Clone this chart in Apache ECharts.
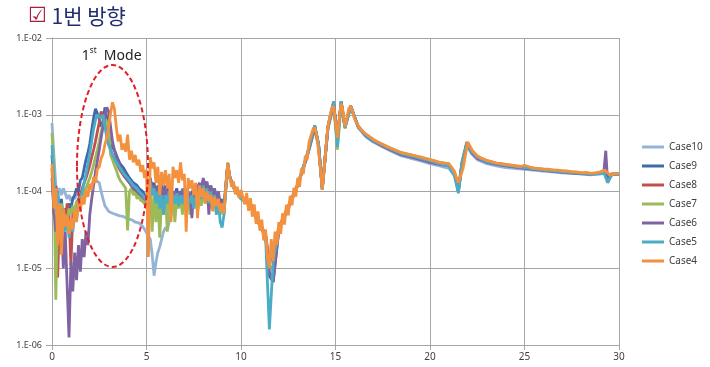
<!DOCTYPE html>
<html><head><meta charset="utf-8">
<script src="https://cdn.jsdelivr.net/npm/echarts@6/dist/echarts.min.js"></script>
<style>html,body{margin:0;padding:0;background:#fff}#c{width:710px;height:367px}</style>
</head><body><div id="c"></div>
<script>
const seriesNames = ['Case10','Case9','Case8','Case7','Case6','Case5','Case4'];
const seriesColors = ['#95b3d7','#3f68ad','#c0504d','#9bbb59','#7f63a2','#4bacc6','#f4913f'];
const xTicks = [0,5,10,15,20,25,30];

const freqLow = [0,0.1,0.2,0.3,0.4,0.5,0.6,0.7,0.8,0.9,
1,1.1,1.2,1.3,1.4,1.5,1.6,1.7,1.8,1.9,
2,2.1,2.2,2.3,2.4,2.5,2.6,2.7,2.8,2.9,
3,3.1,3.2,3.3,3.4,3.5,3.6,3.7,3.8,3.9,
4,4.1,4.2,4.3,4.4,4.5,4.6,4.7,4.8,4.9,
5,5.1,5.2,5.3,5.4,5.5,5.6,5.7,5.8,5.9,
6,6.1,6.2,6.3,6.4,6.5,6.6,6.7,6.8,6.9,
7,7.1,7.2,7.3,7.4,7.5,7.6,7.7,7.8,7.9,
8,8.1,8.2,8.3,8.4,8.5,8.6,8.7,8.8,8.9,
9,9.1,9.2,9.3,9.4,9.5,9.6,9.7,9.8,9.9,
10];

const freqFine = [10.1,10.2,10.3,10.4,10.5,10.6,10.7,10.8,10.9,
11,11.1,11.2,11.3,11.4,11.5,11.6,11.7,11.8,11.9,
12,12.1,12.2,12.3,12.4,12.5,12.6,12.7,12.8,12.9,
13,13.1,13.2,13.3,13.4,13.5,13.6,13.7,13.8,13.9,
14,14.1,14.2,14.3,14.4,14.5,14.6,14.7,14.8,14.9,
15,15.1,15.2,15.3,15.4,15.5,15.6,15.7,15.8,15.9,
16,16.1,16.2,16.3,16.4,16.5,
16.75,17,17.25,17.5,17.75,
18,18.25,18.5,18.75,19,19.25,19.5,19.75,
20,20.25,20.5,20.75,21,21.25,21.5,21.75,
22,22.25,22.5,22.75,23,23.25,23.5,23.75,
24,24.25,24.5,24.75,25,25.25,25.5,25.75,
26,26.25,26.5,26.75,27,27.25,27.5,27.75,
28,28.25,28.5,28.75,29,29.25,29.5,29.75,
30];

const freqCoarse = [10.5,11,11.3,11.5,11.7,12,12.5,13,13.5,13.9,
14.1,14.3,14.6,14.9,15.1,15.3,15.5,15.8,16.2,16.6,
17,17.5,18,18.5,19,19.5,20,20.5,21,21.3,
21.5,21.7,21.95,22.2,22.5,23,23.5,24,25,26,
27,28,28.5,29,29.2,29.3,29.4,29.6,30];

const case10Low = [7.8e-4,3e-4,1.2e-4,1.0e-4,1.1e-4,9e-5,1.1e-4,9.5e-5,8e-5,9e-5,
7.5e-5,8.5e-5,8e-5,9e-5,8.5e-5,9.5e-5,1.0e-4,1.05e-4,1.1e-4,1.15e-4,
1.2e-4,1.25e-4,1.3e-4,1.4e-4,1.45e-4,1.3e-4,1.0e-4,8e-5,6.5e-5,6e-5,
5.5e-5,5.6e-5,5.2e-5,5.4e-5,5e-5,5.2e-5,4.8e-5,5.0e-5,4.7e-5,4.5e-5,
4.4e-5,4.2e-5,4.3e-5,4.2e-5,4.0e-5,4.1e-5,3.9e-5,3.9e-5,3.5e-5,3.2e-5,
2.9e-5,2.6e-5,2.4e-5,1.5e-5,8e-6,1.2e-5,1.6e-5,1.9e-5,2.4e-5,3e-5,
3.4e-5,3.1e-5,4e-5,5e-5,6e-5,7e-5,8e-5,1.0e-4,8.5e-5,1.1e-4,
9e-5,1.1e-4,8e-5,1.0e-4,9e-5,1.05e-4,8e-5,9.5e-5,8.5e-5,1.0e-4,
9e-5,1.0e-4,8e-5,9e-5,8.5e-5,9e-5,7.5e-5,8.5e-5,7e-5,8e-5,
7e-5,6.5e-5,1.3e-4,2.2e-4,1.5e-4,1.3e-4,1.15e-4,1.1e-4,1.0e-4,9.5e-5,
8.5e-5];
const case10High = [6.5e-5,3.5e-5,2.5e-5,1.1e-5,1.6e-5,3.2e-5,6e-5,1.2e-4,2.8e-4,6.5e-4,
3.8e-4,1.05e-4,6.5e-4,1.3e-3,4.8e-4,1.4e-3,6.8e-4,1.25e-3,6.8e-4,5.2e-4,
4.4e-4,3.8e-4,3.3e-4,2.9e-4,2.7e-4,2.5e-4,2.3e-4,2.15e-4,2.0e-4,1.6e-4,
1.0e-4,2.2e-4,4.0e-4,3.1e-4,2.6e-4,2.3e-4,2.15e-4,2.05e-4,1.95e-4,1.85e-4,
1.75e-4,1.7e-4,1.65e-4,1.7e-4,1.72e-4,1.75e-4,1.65e-4,1.65e-4,1.68e-4];

const case9Low = [3e-4,1.0e-4,6e-5,1.0e-4,5e-5,8e-5,4e-5,6e-5,5e-5,7e-5,
6e-5,8e-5,9e-5,1.1e-4,1.0e-4,1.4e-4,1.5e-4,2.0e-4,2.6e-4,3.2e-4,
4.2e-4,6.3e-4,9e-4,1.2e-3,1.15e-3,9e-4,7e-4,8e-4,1.25e-3,9e-4,
5.5e-4,4e-4,3.8e-4,3.5e-4,3e-4,2.6e-4,2.3e-4,2.2e-4,2.0e-4,1.8e-4,
1.7e-4,1.5e-4,1.45e-4,1.3e-4,1.25e-4,1.2e-4,1.1e-4,1.1e-4,1.0e-4,9e-5,
8e-5,1.2e-4,1.5e-4,1.1e-4,1.3e-4,9e-5,1.2e-4,1.0e-4,1.3e-4,8e-5,
1.2e-4,1.0e-4,1.1e-4,7e-5,1.0e-4,9e-5,1.1e-4,8e-5,1.0e-4,9e-5,
1.1e-4,7.5e-5,1.0e-4,8e-5,9.5e-5,1.1e-4,8e-5,1.0e-4,1.2e-4,1.0e-4,
1.4e-4,1.1e-4,1.3e-4,9e-5,1.2e-4,8e-5,1.1e-4,7e-5,1.0e-4,6e-5,
8e-5,6e-5,1.1e-4,2.2e-4,1.6e-4,1.35e-4,1.2e-4,1.1e-4,1.0e-4,9e-5,
8.5e-5];
const case9High = [7e-5,3.9e-5,2.7e-5,8e-6,6.6e-6,3.2e-5,6.3e-5,1.2e-4,3e-4,7.2e-4,
4.2e-4,1.1e-4,7e-4,1.45e-3,5e-4,1.5e-3,7e-4,1.3e-3,7e-4,5.4e-4,
4.6e-4,4e-4,3.5e-4,3.1e-4,2.9e-4,2.7e-4,2.5e-4,2.3e-4,2.2e-4,1.7e-4,
1.0e-4,2.4e-4,4.3e-4,3.3e-4,2.8e-4,2.45e-4,2.3e-4,2.2e-4,2.05e-4,1.9e-4,
1.8e-4,1.72e-4,1.7e-4,1.72e-4,1.8e-4,1.9e-4,1.6e-4,1.68e-4,1.7e-4];

const case8Low = [2e-4,5e-5,1.2e-4,7.6e-6,5e-5,3e-5,6e-5,4e-5,7e-5,5e-5,
1.1e-5,5e-5,6e-5,7e-5,8e-5,9e-5,1.1e-4,1.3e-4,1.5e-4,1.8e-4,
2.2e-4,2.8e-4,3.5e-4,4.5e-4,6e-4,8e-4,1.1e-3,1.15e-3,9e-4,6e-4,
4.5e-4,3.5e-4,3e-4,2.6e-4,2.4e-4,2.1e-4,1.9e-4,1.8e-4,1.6e-4,1.5e-4,
1.4e-4,1.3e-4,1.2e-4,1.1e-4,1.0e-4,9.5e-5,8.5e-5,8e-5,7.5e-5,7e-5,
6.5e-5,1.0e-4,1.3e-4,9e-5,1.1e-4,7e-5,1.0e-4,8e-5,1.1e-4,7e-5,
9e-5,1.0e-4,8e-5,1.0e-4,7e-5,9e-5,8e-5,1.0e-4,7.5e-5,9e-5,
8e-5,1.0e-4,7e-5,9e-5,8e-5,1.0e-4,7.5e-5,9e-5,1.1e-4,8e-5,
1.2e-4,1.0e-4,1.2e-4,8e-5,1.1e-4,7e-5,1.0e-4,6.5e-5,9e-5,6e-5,
7.5e-5,6e-5,1.2e-4,2.3e-4,1.55e-4,1.3e-4,1.15e-4,1.1e-4,1.0e-4,9e-5,
8.5e-5];
const case8High = [6.8e-5,3.7e-5,2.8e-5,1.2e-5,1.5e-5,3.4e-5,6.4e-5,1.25e-4,2.9e-4,7e-4,
4.1e-4,1.1e-4,6.8e-4,1.4e-3,4.8e-4,1.45e-3,7e-4,1.3e-3,7.1e-4,5.5e-4,
4.7e-4,4.05e-4,3.55e-4,3.15e-4,2.95e-4,2.75e-4,2.55e-4,2.35e-4,2.25e-4,1.75e-4,
1.05e-4,2.4e-4,4.4e-4,3.35e-4,2.85e-4,2.5e-4,2.35e-4,2.2e-4,2.05e-4,1.9e-4,
1.82e-4,1.73e-4,1.7e-4,1.73e-4,1.8e-4,1.85e-4,1.62e-4,1.68e-4,1.7e-4];

const case7Low = [5.8e-4,2e-4,3.9e-6,6e-5,4e-5,7e-5,3e-5,5e-5,4e-5,6e-5,
5e-5,6.5e-5,5.5e-5,7.5e-5,6.5e-5,8.5e-5,8e-5,1.0e-4,1.1e-4,1.3e-4,
1.5e-4,1.8e-4,2.2e-4,2.8e-4,3.5e-4,4.5e-4,6e-4,7.5e-4,9e-4,8e-4,
6e-4,3e-4,2.6e-4,2.2e-4,1.9e-4,1.6e-4,1.4e-4,1.3e-4,1.2e-4,1.1e-4,
3.1e-5,1.0e-4,1.1e-4,9e-5,1.0e-4,8e-5,9e-5,7.5e-5,8e-5,7e-5,
6e-5,9e-5,1.1e-4,3e-5,1.0e-4,4e-5,9e-5,2.5e-5,8e-5,5e-5,
1.0e-4,3e-5,9e-5,6e-5,1.0e-4,4e-5,8e-5,6e-5,9e-5,5e-5,
8e-5,6e-5,9e-5,5e-5,8.5e-5,6e-5,9e-5,5.5e-5,8e-5,6.5e-5,
1.0e-4,7e-5,9e-5,6e-5,8.5e-5,6e-5,8e-5,5e-5,7.5e-5,5e-5,
6.5e-5,5e-5,1.2e-4,2.4e-4,1.5e-4,1.3e-4,1.1e-4,1.05e-4,9.5e-5,9e-5,
8e-5];
const case7High = [6.6e-5,3.8e-5,2.6e-5,1.1e-5,9.5e-6,3.3e-5,6.2e-5,1.2e-4,2.9e-4,6.6e-4,
4e-4,1.1e-4,6.8e-4,1.35e-3,3.5e-4,1.4e-3,6.6e-4,1.25e-3,7.1e-4,5.5e-4,
4.7e-4,4.1e-4,3.6e-4,3.2e-4,3e-4,2.8e-4,2.6e-4,2.4e-4,2.3e-4,1.8e-4,
1.1e-4,2.5e-4,4.3e-4,3.4e-4,2.9e-4,2.5e-4,2.35e-4,2.25e-4,2.1e-4,1.95e-4,
1.85e-4,1.75e-4,1.72e-4,1.75e-4,1.8e-4,1.85e-4,1.65e-4,1.7e-4,1.7e-4];

const case6Low = [1.5e-4,6e-5,3e-5,5e-5,2.5e-5,4e-5,1e-5,3e-5,6e-6,1.25e-6,
1.2e-5,5e-6,1.6e-5,7e-6,2e-5,9e-6,2.4e-5,1.4e-5,3e-5,2e-5,
5e-5,8e-5,1.2e-4,1.8e-4,2.5e-4,3.5e-4,5e-4,7e-4,9.5e-4,1.25e-3,
1.1e-3,7e-4,4.5e-4,3.5e-4,2.8e-4,2.4e-4,2.1e-4,1.9e-4,1.7e-4,1.5e-4,
1.4e-4,1.3e-4,1.2e-4,1.1e-4,1.05e-4,1.0e-4,9.5e-5,9e-5,8.5e-5,8e-5,
7.5e-5,1.1e-4,1.4e-4,1.0e-4,1.2e-4,8e-5,1.1e-4,9e-5,1.2e-4,6e-5,
1.1e-4,9e-5,1.0e-4,7e-5,9e-5,1.0e-4,8e-5,1.0e-4,8e-5,1.05e-4,
8.5e-5,1.0e-4,8e-5,9.5e-5,4.5e-5,1.0e-4,8.5e-5,1.1e-4,1.3e-4,1.0e-4,
1.5e-4,1.2e-4,1.35e-4,5e-5,1.2e-4,9e-5,1.1e-4,7e-5,1.0e-4,6.5e-5,
7.5e-5,6e-5,1.15e-4,2.3e-4,1.6e-4,1.3e-4,1.2e-4,1.1e-4,1.0e-4,9e-5,
8.5e-5];
const case6High = [6.8e-5,3.6e-5,2.7e-5,9e-6,6.6e-6,3.1e-5,6.1e-5,1.2e-4,2.9e-4,6.9e-4,
4.1e-4,1.1e-4,6.9e-4,1.4e-3,4.9e-4,1.45e-3,6.9e-4,1.3e-3,6.9e-4,5.3e-4,
4.5e-4,3.9e-4,3.4e-4,3.0e-4,2.8e-4,2.6e-4,2.4e-4,2.25e-4,2.15e-4,1.7e-4,
1.05e-4,2.3e-4,4.2e-4,3.2e-4,2.7e-4,2.4e-4,2.25e-4,2.15e-4,2.0e-4,1.88e-4,
1.78e-4,1.7e-4,1.68e-4,1.72e-4,1.8e-4,3.4e-4,1.3e-4,1.65e-4,1.68e-4];

const case5Low = [4e-4,1.5e-4,5e-5,1.0e-4,4e-5,2.3e-5,6e-5,3e-5,5e-5,2.5e-5,
4e-5,3e-5,5e-5,4.5e-5,7e-5,8e-5,1.0e-4,1.3e-4,1.7e-4,2.3e-4,
3.2e-4,4.5e-4,6.5e-4,8.5e-4,1.0e-3,1.05e-3,9e-4,1.0e-3,7e-4,5e-4,
4e-4,3.5e-4,3e-4,2.7e-4,2.4e-4,2.2e-4,2e-4,1.9e-4,1.7e-4,1.6e-4,
1.5e-4,1.4e-4,1.3e-4,1.2e-4,1.15e-4,1.1e-4,1.0e-4,9.5e-5,9e-5,8.5e-5,
7.5e-5,1.1e-4,1.3e-4,9e-5,1.1e-4,7e-5,1.0e-4,6e-5,9e-5,5e-5,
9e-5,7e-5,1.0e-4,6e-5,9e-5,7e-5,9.5e-5,6.5e-5,9e-5,7e-5,
9e-5,6e-5,8.5e-5,7e-5,9e-5,6e-5,8.5e-5,7e-5,1.0e-4,8e-5,
1.2e-4,9e-5,1.1e-4,7e-5,1.0e-4,6e-5,9e-5,5e-5,8e-5,4e-5,
3.4e-5,5e-5,1.1e-4,2.2e-4,1.5e-4,1.3e-4,1.15e-4,1.05e-4,9.5e-5,9e-5,
8e-5];
const case5High = [6.7e-5,3.6e-5,2.6e-5,1.6e-6,1.2e-5,3.2e-5,6.2e-5,1.2e-4,3.1e-4,7.3e-4,
4.2e-4,1.05e-4,7.1e-4,1.5e-3,3.8e-4,1.5e-3,6.8e-4,1.3e-3,7e-4,5.4e-4,
4.6e-4,4e-4,3.5e-4,3.1e-4,2.9e-4,2.7e-4,2.5e-4,2.3e-4,2.15e-4,1.6e-4,
9.5e-5,2.3e-4,4.2e-4,3.3e-4,2.8e-4,2.45e-4,2.3e-4,2.2e-4,2.05e-4,1.9e-4,
1.8e-4,1.72e-4,1.68e-4,1.7e-4,1.75e-4,1.8e-4,1.3e-4,1.65e-4,1.7e-4];

const case4Low = [2.3e-4,6e-5,1.1e-4,2e-5,7e-5,1.5e-5,6e-5,3.5e-5,5e-5,2.8e-5,
4.5e-5,3.2e-5,5.8e-5,4.0e-5,7.2e-5,5.5e-5,8.8e-5,6.8e-5,1.05e-4,8.5e-5,
1.25e-4,1.05e-4,1.55e-4,1.3e-4,1.95e-4,2.1e-4,2.7e-4,3.1e-4,4.1e-4,5e-4,
7e-4,1.05e-3,1.45e-3,1.2e-3,7e-4,4.5e-4,5.5e-4,3.5e-4,4.2e-4,3.3e-4,
5.5e-4,2.6e-4,3.4e-4,2.4e-4,3.0e-4,2.2e-4,2.6e-4,1.8e-4,2.2e-4,1.5e-4,
1.9e-4,1.4e-5,2.8e-4,2.0e-4,2.4e-4,1.3e-4,2.1e-4,9e-5,1.8e-4,1.2e-4,
1.9e-4,1.1e-4,1.7e-4,4e-5,2.1e-4,1.5e-4,1.9e-4,1.3e-4,2.4e-4,1.4e-4,
1.7e-4,3e-5,1.5e-4,1.1e-4,1.4e-4,9e-5,1.3e-4,4.5e-5,1.2e-4,8.5e-5,
1.1e-4,7e-5,1.0e-4,7.5e-5,9e-5,5.5e-5,8.5e-5,6.5e-5,8e-5,5.5e-5,
7e-5,5.2e-5,1.2e-4,2.3e-4,1.6e-4,1.15e-4,1.35e-4,9.2e-5,1.15e-4,8.2e-5,
1.05e-4];
const case4High = [1.1e-4,6.8e-5,9.6e-5,5.6e-5,8.2e-5,4.7e-5,6.8e-5,3.8e-5,5.5e-5,
3.1e-5,4.3e-5,2.3e-5,3.2e-5,1.4e-5,1.0e-5,2.4e-5,1.25e-5,3.0e-5,2.0e-5,
4.0e-5,2.8e-5,5.2e-5,3.7e-5,6.7e-5,4.9e-5,8.8e-5,6.6e-5,1.12e-4,8.6e-5,
1.5e-4,1.15e-4,2.0e-4,1.7e-4,2.9e-4,2.6e-4,4.4e-4,4.4e-4,6.4e-4,6.8e-4,
5.5e-4,3.4e-4,2.0e-4,1.05e-4,1.9e-4,4.0e-4,7.0e-4,9.5e-4,1.2e-3,1.3e-3,
8e-4,5e-4,9e-4,1.4e-3,1.1e-3,7e-4,9e-4,1.2e-3,1.3e-3,1.1e-3,
9e-4,8e-4,7.2e-4,6.6e-4,6.1e-4,5.8e-4,
5.3e-4,4.8e-4,4.4e-4,4.1e-4,3.8e-4,
3.6e-4,3.4e-4,3.2e-4,3.1e-4,3.0e-4,2.9e-4,2.8e-4,2.7e-4,
2.6e-4,2.5e-4,2.4e-4,2.35e-4,2.3e-4,1.9e-4,1.3e-4,2.0e-4,
4.4e-4,3.4e-4,2.9e-4,2.7e-4,2.55e-4,2.45e-4,2.35e-4,2.3e-4,
2.25e-4,2.2e-4,2.15e-4,2.1e-4,2.2e-4,2.1e-4,2.0e-4,2.0e-4,
1.95e-4,1.95e-4,1.9e-4,1.9e-4,1.85e-4,1.85e-4,1.8e-4,1.8e-4,
1.75e-4,1.78e-4,1.72e-4,1.75e-4,1.8e-4,1.9e-4,1.65e-4,1.7e-4,
1.7e-4];

// annotation placement in data units
const modeEllipse = {left: 1.32, right: 5.08, top: 4.45e-3, bottom: 1.04e-5};
const modeLabelAt = [1.58, 6.0e-3];

function pairs(xs, ys) { return xs.map((x, i) => [x, ys[i]]); }
const seriesValues = [
  pairs(freqLow, case10Low).concat(pairs(freqCoarse, case10High)),
  pairs(freqLow, case9Low).concat(pairs(freqCoarse, case9High)),
  pairs(freqLow, case8Low).concat(pairs(freqCoarse, case8High)),
  pairs(freqLow, case7Low).concat(pairs(freqCoarse, case7High)),
  pairs(freqLow, case6Low).concat(pairs(freqCoarse, case6High)),
  pairs(freqLow, case5Low).concat(pairs(freqCoarse, case5High)),
  pairs(freqLow, case4Low).concat(pairs(freqFine, case4High))
];

const chart = echarts.init(document.getElementById('c'), null, {renderer: 'canvas'});
const gridColor = '#a6a6a6';
const option = {
  animation: false,
  backgroundColor: '#ffffff',
  textStyle: {fontFamily: 'Noto Sans'},
  title: {
    left: 23, top: 1,
    text: '{a|☑} {b|1번 방향}',
    textStyle: {
      fontWeight: 'normal',
      rich: {
        a: {fontSize: 21, color: '#a3213a', fontFamily: 'DejaVu Sans', fontWeight: 'bold'},
        b: {fontSize: 21, color: '#1f2f6e', fontFamily: 'Noto Sans CJK KR', fontWeight: 'normal'}
      }
    }
  },
  grid: {left: 52, right: 91, top: 38, bottom: 22, containLabel: false, outerBoundsMode: 'none'},
  legend: {
    orient: 'vertical', left: 637, top: 136,
    data: seriesNames, icon: 'rect', itemWidth: 22, itemHeight: 3, itemGap: 7,
    textStyle: {fontSize: 10, color: '#404040', lineHeight: 12}
  },
  xAxis: {
    type: 'value', min: xTicks[0], max: xTicks[xTicks.length - 1], interval: 5,
    axisLine: {show: true, lineStyle: {color: gridColor}},
    axisTick: {show: true, length: 5, lineStyle: {color: gridColor}},
    splitLine: {show: true, lineStyle: {color: gridColor}},
    axisLabel: {fontSize: 10, color: '#404040', margin: 7}
  },
  yAxis: {
    type: 'log', logBase: 10, min: 1e-6, max: 1e-2,
    axisLine: {show: true, lineStyle: {color: gridColor}},
    axisTick: {show: true, length: 6, lineStyle: {color: gridColor}},
    splitLine: {show: true, lineStyle: {color: gridColor}},
    minorTick: {show: false},
    axisLabel: {
      fontSize: 9, color: '#404040', margin: 10,
      formatter: v => '1.E-' + String(-Math.round(Math.log10(v))).padStart(2, '0')
    }
  },
  series: seriesNames.map((name, i) => ({
    name: name, type: 'line', data: seriesValues[i],
    showSymbol: false, symbol: 'none',
    color: seriesColors[i],
    lineStyle: {width: 2.8, color: seriesColors[i]},
    itemStyle: {color: seriesColors[i]},
    emphasis: {disabled: true}
  }))
};
chart.setOption(option);

const pTL = chart.convertToPixel({gridIndex: 0}, [modeEllipse.left, modeEllipse.top]);
const pBR = chart.convertToPixel({gridIndex: 0}, [modeEllipse.right, modeEllipse.bottom]);
const pLab = chart.convertToPixel({gridIndex: 0}, modeLabelAt);
chart.setOption({
  graphic: [
    {
      type: 'ellipse', z: 100, silent: true,
      shape: {cx: (pTL[0] + pBR[0]) / 2, cy: (pTL[1] + pBR[1]) / 2, rx: (pBR[0] - pTL[0]) / 2, ry: (pBR[1] - pTL[1]) / 2},
      style: {fill: null, stroke: '#e0202a', lineWidth: 2, lineDash: [5, 3]}
    },
    {
      type: 'text', z: 100, silent: true, x: pLab[0], y: pLab[1],
      style: {
        text: '{n|1}{s|st}{m|  Mode}', textVerticalAlign: 'middle', verticalAlign: 'middle',
        rich: {
          n: {fontSize: 14, fill: '#222', fontFamily: 'Noto Sans', verticalAlign: 'bottom', lineHeight: 16},
          s: {fontSize: 8, fill: '#222', fontFamily: 'Noto Sans', verticalAlign: 'top', lineHeight: 16},
          m: {fontSize: 14, fill: '#222', fontFamily: 'Noto Sans', verticalAlign: 'bottom', lineHeight: 16}
        }
      }
    }
  ]
});
</script>
</body></html>
